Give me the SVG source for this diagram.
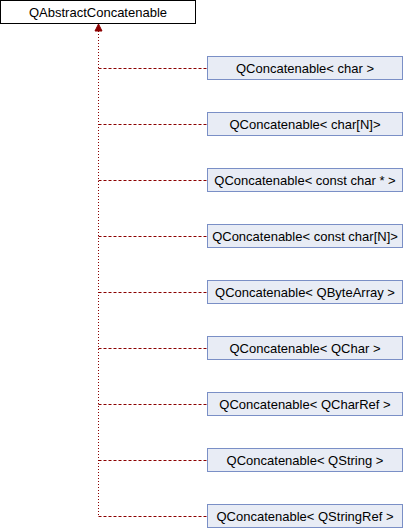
<svg xmlns="http://www.w3.org/2000/svg" width="404" height="528" viewBox="0 0 404 528">
<style>
.n rect{fill:#e8ecf5;stroke:#7a8fc6;stroke-width:1}
.r rect{fill:#ffffff;stroke:#000000;stroke-width:1}
text{font-family:"Liberation Sans",Arial,sans-serif;font-size:13px;text-anchor:middle;fill:#000}
.e{fill:none;stroke:#8b0000;stroke-width:1;stroke-dasharray:1,2}
.h{fill:none;stroke:#8b0000;stroke-width:1;stroke-dasharray:3,2}
</style>
<rect width="404" height="528" fill="#fff"/>
<g id="connectors">
<path class="e" d="M98.5,31V516.5"/>
<path class="h" d="M98.5,68.5H207"/>
<path class="h" d="M98.5,124.5H207"/>
<path class="h" d="M98.5,180.5H207"/>
<path class="h" d="M98.5,236.5H207"/>
<path class="h" d="M98.5,292.5H207"/>
<path class="h" d="M98.5,348.5H207"/>
<path class="h" d="M98.5,404.5H207"/>
<path class="h" d="M98.5,460.5H207"/>
<path class="h" d="M98.5,516.5H207"/>
<polygon points="98.5,24 102,31 95,31" fill="#8b0000" stroke="#8b0000"/>
</g>
<g id="node0" class="r"><rect x="0.5" y="0.5" width="195" height="23"/><text x="98" y="17">QAbstractConcatenable</text></g>
<g id="node1" class="n"><rect x="207.5" y="56.5" width="195" height="23"/><text x="305" y="73">QConcatenable&lt; char &gt;</text></g>
<g id="node2" class="n"><rect x="207.5" y="112.5" width="195" height="23"/><text x="305" y="129">QConcatenable&lt; char[N]&gt;</text></g>
<g id="node3" class="n"><rect x="207.5" y="168.5" width="195" height="23"/><text x="305" y="185">QConcatenable&lt; const char * &gt;</text></g>
<g id="node4" class="n"><rect x="207.5" y="224.5" width="195" height="23"/><text x="305" y="241">QConcatenable&lt; const char[N]&gt;</text></g>
<g id="node5" class="n"><rect x="207.5" y="280.5" width="195" height="23"/><text x="305" y="297">QConcatenable&lt; QByteArray &gt;</text></g>
<g id="node6" class="n"><rect x="207.5" y="336.5" width="195" height="23"/><text x="305" y="353">QConcatenable&lt; QChar &gt;</text></g>
<g id="node7" class="n"><rect x="207.5" y="392.5" width="195" height="23"/><text x="305" y="409">QConcatenable&lt; QCharRef &gt;</text></g>
<g id="node8" class="n"><rect x="207.5" y="448.5" width="195" height="23"/><text x="305" y="465">QConcatenable&lt; QString &gt;</text></g>
<g id="node9" class="n"><rect x="207.5" y="504.5" width="195" height="23"/><text x="305" y="521">QConcatenable&lt; QStringRef &gt;</text></g>
</svg>
